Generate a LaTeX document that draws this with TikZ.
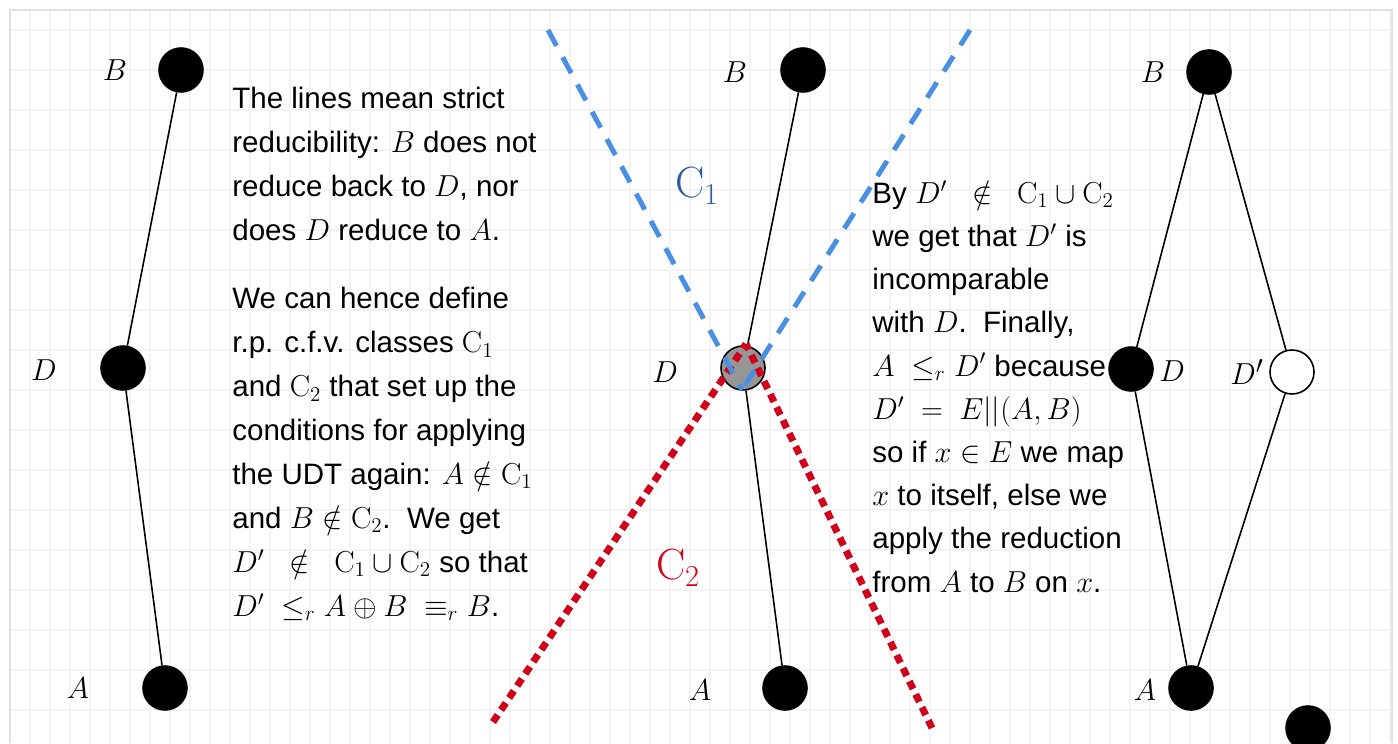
\documentclass[tikz,border=0pt]{standalone}
\usepackage{amsmath,amssymb}
\usepackage[no-math]{fontspec}
\setmainfont{Liberation Sans}
\usetikzlibrary{positioning}
\definecolor{cblue}{RGB}{74,144,226}
\definecolor{cbluetext}{RGB}{46,94,158}
\definecolor{cred}{RGB}{208,2,27}
\definecolor{dotgray}{RGB}{150,150,150}
\definecolor{gridgray}{RGB}{243,243,243}
\definecolor{framegray}{RGB}{225,225,225}

\tikzset{
  vdot/.style={circle, draw=black, fill=black, line width=0.9pt, minimum size=0.88cm, inner sep=0pt},
  vhollow/.style={vdot, fill=white},
  lbl/.style={font=\fontsize{19}{22}\selectfont, inner sep=0pt},
  link/.style={line width=0.9pt},
  txt/.style={anchor=north west, align=left, inner sep=0pt, font=\fontsize{16.8}{25}\selectfont},
  cone/.style={cblue, line width=0.1cm, dash pattern=on 0.36cm off 0.26cm},
  ctwo/.style={cred, line width=0.14cm, dash pattern=on 0.17cm off 0.12cm},
  clbl/.style={font=\fontsize{25}{30}\selectfont, inner sep=0pt},
}

\begin{document}
\begin{tikzpicture}[x=0.02cm, y=-0.02cm]
  \useasboundingbox (0,0) rectangle (1398,743);
  \clip (0,0) rectangle (1398,743);

  % background grid
  \foreach \gx in {30,50,...,1390} \draw[gridgray, line width=1pt] (\gx,10) -- (\gx,743);
  \foreach \gy in {30,70,...,710} \draw[gridgray, line width=1pt] (10,\gy) -- (1392,\gy);
  \draw[framegray, line width=1pt] (10,743) -- (10,10) -- (1392,10) -- (1392,743);

  % left chain
  \node[vdot] (Bl) at (181,70) {};
  \node[vdot] (Dl) at (123,368) {};
  \node[vdot] (Al) at (165,688) {};
  \draw[link] (Bl) -- (Dl) -- (Al);
  \node[lbl] (lBl) at (115,70) {$B$};
  \node[lbl] (lDl) at (44,370) {$D$};
  \node[lbl] (lAl) at (78,688) {$A$};

  % explanation
  \node[txt] (txtA) at (232,87) {The lines mean strict\\
    reducibility: $B$ does not\\
    reduce back to $D$, nor\\
    does $D$ reduce to $A$.};
  \node[txt] (txtB) at (232,287) {We can hence define\\
    r.p. c.f.v. classes $\mathrm{C}_1$\\
    and $\mathrm{C}_2$ that set up the\\
    conditions for applying\\
    the UDT again: $A\notin\mathrm{C}_1$\\
    and $B\notin\mathrm{C}_2$.\ \ We get\\
    $D'\ \ \notin\ \ \mathrm{C}_1\cup\mathrm{C}_2$ so that\\
    $D'\ \leq_{r} A\oplus B\ \equiv_{r} B$.};
  \node[txt, font=\fontsize{16.8}{24.6}\selectfont] (txtC) at (872,180) {By $D'\ \ \notin\ \ \mathrm{C}_1\cup\mathrm{C}_2$\\
    we get that $D'$ is\\
    incomparable\\
    with $D$.\ \ Finally,\\
    $A\ \leq_{r} D'$ because\\
    $D'\ =\ E||(A,B)$\\
    so if $x\in E$ we map\\
    $x$ to itself, else we\\
    apply the reduction\\
    from $A$ to $B$ on $x$.};

  % middle chain
  \node[vdot] (Bm) at (803,70) {};
  \node[vdot, fill=dotgray] (Dm) at (743,368) {};
  \node[vdot] (Am) at (785,688) {};
  \draw[link] (Bm) -- (Dm) -- (Am);
  \node[lbl] (lBm) at (735,72) {$B$};
  \node[lbl] (lDm) at (665,372) {$D$};
  \node[lbl] (lAm) at (700,690) {$A$};

  % the two classes
  \coordinate (twoL) at (493,722);
  \coordinate (twoR) at (932,728);
  \coordinate (twoV) at (746,344);
  \draw[ctwo] (twoL) -- (twoV);
  \draw[ctwo] (twoR) -- (twoV);
  \coordinate (oneL) at (548,30);
  \coordinate (oneR) at (970,30);
  \coordinate (oneV) at (742,390);
  \draw[cone] (oneL) -- (oneV);
  \draw[cone] (oneR) -- (oneV);
  \node[clbl, text=cbluetext] (lCone) at (697,186) {$\mathrm{C}_1$};
  \node[clbl, text=cred] (lCtwo) at (678,568) {$\mathrm{C}_2$};

  % right diamond
  \node[vdot] (Br) at (1209,72) {};
  \node[vdot] (Dr) at (1131,369) {};
  \node[vhollow] (Dpr) at (1292,372) {};
  \node[vdot] (Ar) at (1191,688) {};
  \node[vdot] (Xr) at (1308,728) {};
  \draw[link] (Br) -- (Dr) -- (Ar);
  \draw[link] (Br) -- (Dpr) -- (Ar);
  \node[lbl] (lBr) at (1153,72) {$B$};
  \node[lbl] (lDr) at (1172,371) {$D$};
  \node[lbl] (lDpr) at (1247,372) {$D'$};
  \node[lbl] (lAr) at (1145,690) {$A$};
\end{tikzpicture}
\end{document}
